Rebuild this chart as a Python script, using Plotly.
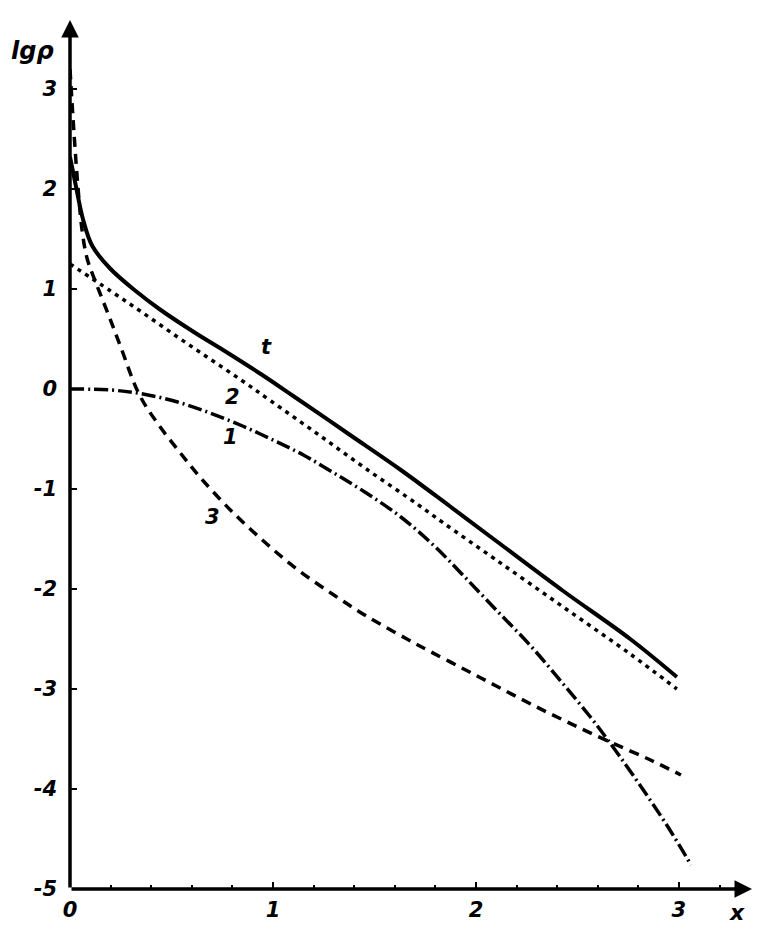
import plotly.graph_objects as go

# curve t (solid)
x_t = [0.0, 0.03, 0.065, 0.11, 0.2, 0.33, 0.44, 0.61, 0.77, 0.94, 1.1, 1.38, 1.63, 1.87, 2.1, 2.43, 2.76, 2.99]
y_t = [2.32, 2.02, 1.69, 1.43, 1.2, 0.97, 0.8, 0.57, 0.37, 0.15, -0.07, -0.46, -0.81, -1.17, -1.52, -2.02, -2.5, -2.88]

# curve 2 (dotted)
x_2 = [0.0, 0.2, 0.36, 0.53, 0.69, 0.85, 0.99, 1.22, 1.46, 1.71, 1.84, 2.1, 2.43, 2.76, 2.99]
y_2 = [1.25, 0.98, 0.76, 0.52, 0.3, 0.08, -0.12, -0.45, -0.8, -1.15, -1.34, -1.71, -2.18, -2.65, -3.0]

# curve 1 (dash-dot)
x_1 = [0.0, 0.2, 0.36, 0.53, 0.69, 0.85, 1.0, 1.15, 1.3, 1.46, 1.63, 1.79, 1.94, 2.1, 2.27, 2.43, 2.56, 2.65, 2.77, 2.94, 3.06]
y_1 = [0.0, -0.01, -0.05, -0.13, -0.24, -0.37, -0.51, -0.66, -0.84, -1.04, -1.28, -1.56, -1.87, -2.21, -2.57, -2.95, -3.27, -3.51, -3.85, -4.36, -4.76]

# curve 3 (dashed)
x_3 = [0.0, 0.02, 0.04, 0.06, 0.085, 0.13, 0.19, 0.25, 0.34, 0.43, 0.54, 0.64, 0.8, 0.97, 1.13, 1.3, 1.46, 1.66, 1.77, 1.94, 2.1, 2.27, 2.45, 2.65, 2.86, 3.01]
y_3 = [3.2, 2.55, 2.0, 1.58, 1.3, 1.05, 0.74, 0.42, -0.05, -0.34, -0.63, -0.88, -1.23, -1.55, -1.82, -2.06, -2.27, -2.5, -2.62, -2.8, -2.97, -3.15, -3.33, -3.52, -3.71, -3.86]

y_ticks = [3, 2, 1, 0, -1, -2, -3, -4, -5]
y_ticktext = ["3", "2", "1", "0", "-1", "-2", "-3", "-4", "-5"]
x_ticks = [0, 1, 2, 3]
x_ticktext = ["0", "1", "2", "3"]

# curve labels: text, x, y
labels = [("t", 0.97, 0.42), ("2", 0.8, -0.08), ("1", 0.79, -0.48), ("3", 0.7, -1.28)]

font_it = dict(family="DejaVu Sans", size=21, color="black", style="italic", weight="bold")

fig = go.Figure()

fig.add_trace(go.Scatter(x=x_3, y=y_3, mode="lines",
                         line=dict(color="black", width=3.5, dash="10px,7px", shape="spline")))
fig.add_trace(go.Scatter(x=x_1, y=y_1, mode="lines",
                         line=dict(color="black", width=3.5, dash="14px,4px,2px,4px", shape="spline")))
fig.add_trace(go.Scatter(x=x_2, y=y_2, mode="lines",
                         line=dict(color="black", width=3.5, dash="4px,5px", shape="spline")))
fig.add_trace(go.Scatter(x=x_t, y=y_t, mode="lines",
                         line=dict(color="black", width=4, shape="spline")))

for txt, lx, ly in labels:
    fig.add_annotation(x=lx, y=ly, text=txt, showarrow=False, font=font_it)

# axes drawn as arrows
fig.add_annotation(x=3.36, y=-5, ax=0, ay=-5, xref="x", yref="y", axref="x", ayref="y",
                   text="", showarrow=True, arrowhead=2, arrowsize=1, arrowwidth=3.5, arrowcolor="black")
fig.add_annotation(x=0, y=3.69, ax=0, ay=-5, xref="x", yref="y", axref="x", ayref="y",
                   text="", showarrow=True, arrowhead=2, arrowsize=1, arrowwidth=3.5, arrowcolor="black")

# axis titles
fig.add_annotation(x=(32 - 70) / 683, y=(889 - 51) / 869, xref="paper", yref="paper", text="lgρ",
                   showarrow=False, xanchor="center", yanchor="middle",
                   font=dict(family="DejaVu Sans", size=24, color="black", style="italic", weight="bold"))
fig.add_annotation(x=(737 - 70) / 683, y=(889 - 912) / 869, xref="paper", yref="paper", text="x",
                   showarrow=False, xanchor="center", yanchor="middle",
                   font=dict(family="DejaVu Sans", size=22, color="black", style="italic", weight="bold"))

# page body has an 8px default margin, so the figure is a bit smaller than the window
fig.update_layout(
    width=763,
    height=934,
    margin=dict(l=62, r=18, t=12, b=53),
    plot_bgcolor="white",
    paper_bgcolor="white",
    showlegend=False,
    xaxis=dict(range=[0, 3.365], showgrid=False, zeroline=False, showline=False, automargin=False,
               tickvals=x_ticks, ticktext=x_ticktext, ticks="inside", ticklen=7, tickwidth=2,
               tickcolor="black", tickfont=font_it, ticklabelstandoff=6,
               minor=dict(dtick=0.2, tick0=0, ticks="inside", ticklen=4, tickwidth=2, tickcolor="black")),
    yaxis=dict(range=[-5, 3.69], showgrid=False, zeroline=False, showline=False, automargin=False,
               tickvals=y_ticks, ticktext=y_ticktext, ticks="inside", ticklen=7, tickwidth=2,
               tickcolor="black", tickfont=font_it, ticklabelstandoff=12),
)

fig.write_html("out.html")
